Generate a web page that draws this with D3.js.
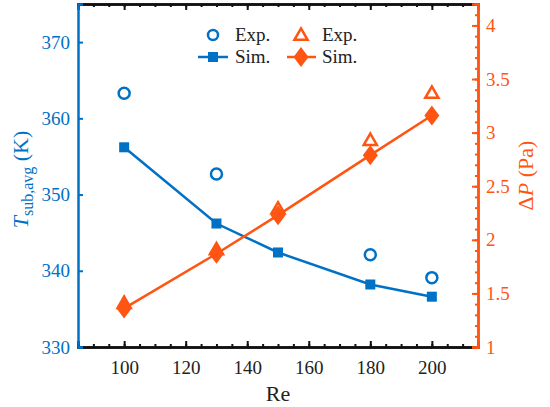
<!DOCTYPE html>
<html>
<head>
<meta charset="utf-8">
<title>T and dP vs Re</title>
<script src="https://cdn.jsdelivr.net/npm/d3@7/dist/d3.min.js"></script>
<style>
  * { margin: 0; padding: 0; }
  body { background: #fff; }
</style>
</head>
<body>
<div id="show"></div>
<script>
  // data
  var re = [100, 130, 150, 180, 200];
  var tExp = [363.3, 352.7, null, 342.1, 339.1];
  var tSim = [356.2, 346.2, 342.4, 338.2, 336.6];
  var pExp = [1.40, 1.90, 2.28, 2.92, 3.36];
  var pSim = [1.36, 1.87, 2.23, 2.79, 3.16];

  var xTicks = [100, 120, 140, 160, 180, 200];
  var tTicks = [330, 340, 350, 360, 370];
  var pTicks = [1, 1.5, 2, 2.5, 3, 3.5, 4];

  var blue = "#0071c5", orange = "#ff5512";
  var W = 550, H = 407;
  var m = {left: 78, right: 72, top: 4, bottom: 60};
  var iw = W - m.left - m.right, ih = H - m.top - m.bottom;

  var svg = d3.select("#show").append("svg").attr("width", W).attr("height", H);
  var g = svg.append("g").attr("transform", "translate(" + m.left + "," + m.top + ")");

  var x = d3.scaleLinear().domain([85, 215]).range([0, iw]);
  var yT = d3.scaleLinear().domain([330, 375]).range([ih, 0]);
  var yP = d3.scaleLinear().domain([1, 4.2]).range([ih, 0]);

  // bottom + top axes (black)
  var minorX = d3.range(90, 215, 5);
  g.append("g").attr("transform", "translate(0," + ih + ")")
    .call(d3.axisBottom(x).tickValues(minorX).tickSize(-3).tickFormat(""));
  g.append("g").attr("transform", "translate(0," + ih + ")")
    .call(d3.axisBottom(x).tickValues(xTicks).tickSize(-6).tickPadding(14))
    .call(function(a){ a.selectAll("text").attr("font-size", 19).attr("fill", "#222"); });
  g.append("g")
    .call(d3.axisTop(x).tickValues(minorX).tickSize(-3).tickFormat(""));
  g.append("g")
    .call(d3.axisTop(x).tickValues(xTicks).tickSize(-6).tickFormat(""));
  g.selectAll(".domain").attr("stroke", "#111").attr("stroke-width", 2.5);
  g.selectAll(".tick line").attr("stroke", "#111").attr("stroke-width", 2);

  // left axis (blue)
  var la = g.append("g")
    .call(d3.axisLeft(yT).tickValues(tTicks).tickSize(-5).tickPadding(8));
  la.selectAll(".domain").attr("stroke", blue).attr("stroke-width", 2.5);
  la.selectAll(".tick line").attr("stroke", blue).attr("stroke-width", 2);
  la.selectAll("text").attr("font-size", 19).attr("fill", blue);

  // right axis (orange)
  var minorP = d3.range(11, 42).map(function(d){ return d / 10; });
  var ra = g.append("g").attr("transform", "translate(" + iw + ",0)");
  ra.append("g").call(d3.axisRight(yP).tickValues(minorP).tickSize(-3).tickFormat(""));
  ra.append("g").call(d3.axisRight(yP).tickValues(pTicks).tickSize(-6).tickPadding(8)
      .tickFormat(function(d){ return String(d); }));
  ra.selectAll(".domain").attr("stroke", orange).attr("stroke-width", 2.5);
  ra.selectAll(".tick line").attr("stroke", orange).attr("stroke-width", 2);
  ra.selectAll("text").attr("font-size", 19).attr("fill", orange);

  // axis titles
  svg.append("text").attr("x", m.left + iw / 2).attr("y", 401)
    .attr("text-anchor", "middle").attr("font-size", 22).attr("fill", "#222").text("Re");

  var lt = svg.append("text").attr("transform", "translate(28," + (m.top + ih / 2 + 4) + ") rotate(-90)")
    .attr("text-anchor", "middle").attr("font-size", 22).attr("fill", blue);
  lt.append("tspan").attr("font-style", "italic").text("T");
  lt.append("tspan").attr("font-size", 16).attr("dy", 5).text("sub,avg");
  lt.append("tspan").attr("dy", -5).text(" (K)");

  var rt = svg.append("text").attr("transform", "translate(533," + (m.top + ih / 2) + ") rotate(-90)")
    .attr("text-anchor", "middle").attr("font-size", 22).attr("fill", orange);
  rt.append("tspan").text("\u0394");
  rt.append("tspan").attr("font-style", "italic").text("P");
  rt.append("tspan").text(" (Pa)");

  // series
  var tLine = d3.line().x(function(d, i){ return x(re[i]); }).y(function(d){ return yT(d); });
  var pLine = d3.line().x(function(d, i){ return x(re[i]); }).y(function(d){ return yP(d); });

  g.append("path").datum(tSim).attr("d", tLine).attr("fill", "none")
    .attr("stroke", blue).attr("stroke-width", 2.5);
  g.append("path").datum(pSim).attr("d", pLine).attr("fill", "none")
    .attr("stroke", orange).attr("stroke-width", 2.5);

  var tri = d3.symbol().type(d3.symbolTriangle).size(75);
  var dia = function(cx, cy){ return "M" + cx + "," + (cy - 10) + "L" + (cx + 7.5) + "," + cy +
    "L" + cx + "," + (cy + 10) + "L" + (cx - 7.5) + "," + cy + "Z"; };

  // orange exp triangles (drawn under diamonds)
  g.selectAll(".ptri").data(pExp).enter().append("path")
    .attr("transform", function(d, i){ return "translate(" + x(re[i]) + "," + yP(d) + ")"; })
    .attr("d", tri).attr("fill", "#fff").attr("stroke", orange).attr("stroke-width", 2.5);

  g.selectAll(".psim").data(pSim).enter().append("path")
    .attr("d", function(d, i){ return dia(x(re[i]), yP(d)); }).attr("fill", orange);

  g.selectAll(".tsq").data(tSim).enter().append("rect")
    .attr("x", function(d, i){ return x(re[i]) - 5; }).attr("y", function(d){ return yT(d) - 5; })
    .attr("width", 10).attr("height", 10).attr("fill", blue);

  g.selectAll(".tcirc").data(tExp.filter(function(d){ return d !== null; })).enter().append("circle")
    .attr("cx", function(d){ return x(re[tExp.indexOf(d)]); }).attr("cy", function(d){ return yT(d); })
    .attr("r", 5.5).attr("fill", "none").attr("stroke", blue).attr("stroke-width", 2.5);

  // legend
  var lg = svg.append("g");
  lg.append("circle").attr("cx", 213).attr("cy", 35).attr("r", 5).attr("fill", "none")
    .attr("stroke", blue).attr("stroke-width", 2.5);
  lg.append("line").attr("x1", 198).attr("x2", 228).attr("y1", 57).attr("y2", 57)
    .attr("stroke", blue).attr("stroke-width", 2.5);
  lg.append("rect").attr("x", 208).attr("y", 52).attr("width", 10).attr("height", 10).attr("fill", blue);
  lg.append("path").attr("transform", "translate(301,36)").attr("d", tri)
    .attr("fill", "#fff").attr("stroke", orange).attr("stroke-width", 2.5);
  lg.append("line").attr("x1", 287).attr("x2", 316).attr("y1", 57).attr("y2", 57)
    .attr("stroke", orange).attr("stroke-width", 2.5);
  lg.append("path").attr("d", dia(301, 57)).attr("fill", orange);
  [["Exp.", 235, 41], ["Sim.", 235, 63], ["Exp.", 322, 41], ["Sim.", 322, 63]].forEach(function(t){
    lg.append("text").attr("x", t[1]).attr("y", t[2]).attr("font-size", 19).attr("fill", "#222").text(t[0]);
  });

  // serif everywhere (d3 axes default to sans-serif)
  svg.selectAll("text").style("font-family", "Liberation Serif");
</script>
</body>
</html>
